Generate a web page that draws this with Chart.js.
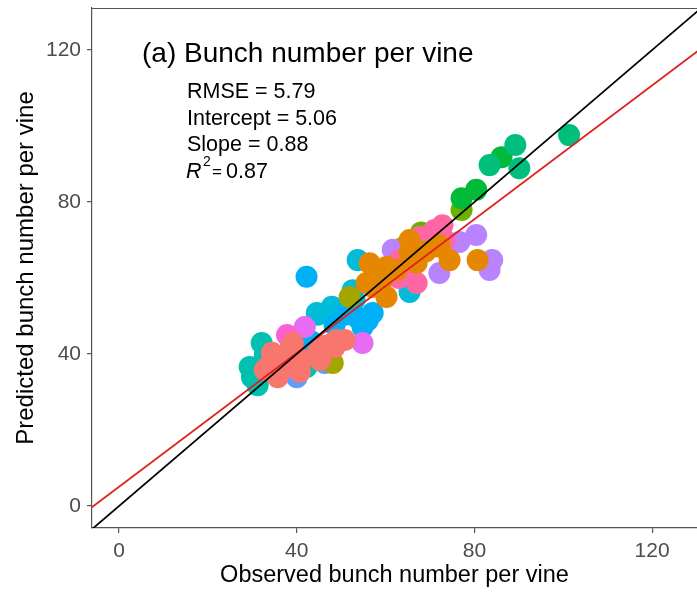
<!DOCTYPE html>
<html>
<head>
<meta charset="utf-8">
<title>Bunch number per vine</title>
<script src="https://cdn.jsdelivr.net/npm/chart.js@4.4.1/dist/chart.umd.min.js"></script>
<style>
  html, body { margin: 0; padding: 0; background: #fff; overflow: hidden; }
  #chart { display: block; }
</style>
</head>
<body>
<canvas id="chart" width="697" height="592"></canvas>
<script>
// observed vs predicted bunch number, one array per group ([observed, predicted])
var grpSalmon  = [[34.4,40.3],[37.3,36.6],[33.5,36.6],[48.5,41.8],[44.7,40.3],[50.8,43.7],[41.1,38.4],[35.7,33.9],[39.1,42.9],[49.0,43.7],[36.0,39.0],[46.0,42.0],[40.7,35.3],[45.2,38.4],[47.4,42.4],[38.4,41.1],[32.8,35.8]];
var grpOrange  = [[80.7,64.7],[74.4,64.7],[72.1,68.2],[65.4,66.6],[56.4,63.9],[60.2,62.9],[57.1,57.6],[59.3,59.5],[55.7,58.7],[60.2,55.0],[62.5,62.1],[67.0,64.0],[69.0,67.0],[72.1,68.7],[65.4,70.0]];
var grpOlive   = [[51.9,55.0],[48.1,37.6],[64.0,68.0],[66.5,69.2]];
var grpLime    = [[77.1,77.9],[68.0,72.0]];
var grpGreen   = [[86.1,91.8],[80.4,83.2],[77.1,81.0]];
var grpJade    = [[101.3,97.6],[89.2,95.0],[83.4,89.7],[90.1,88.9]];
var grpTeal    = [[29.9,33.9],[29.4,36.6],[32.1,42.9],[42.2,36.6],[31.0,35.0],[34.0,38.0],[31.2,31.8],[32.8,39.7]];
var grpCyan    = [[53.7,64.7],[65.4,56.3],[44.5,50.8],[47.9,52.4],[52.6,56.8],[44.7,50.3],[53.0,54.2]];
var grpSky     = [[42.2,60.3],[54.8,47.1],[57.1,50.8],[42.2,43.7],[53.5,49.7],[43.4,43.2],[56.0,48.9],[48.5,47.6],[50.8,50.3]];
var grpBlue    = [[46.3,37.6],[40.0,33.9]];
var grpPurple  = [[80.4,71.3],[76.6,69.5],[84.0,64.7],[83.4,62.1],[72.1,61.3],[61.6,67.4]];
var grpMagenta = [[54.8,42.9],[41.8,47.1]];
var grpOrchid  = [[37.8,45.0],[70.0,68.0]];
var grpPink    = [[72.8,73.9],[67.6,70.8],[65.4,63.9],[67.0,58.7],[63.0,60.0],[63.1,64.7],[71.0,72.6],[73.3,70.0]];

// fitted line and 1:1 line
var fitIntercept = 5.06;
var fitSlope = 0.88;
var lineX = [-10, 140];

var xTicks = [0, 40, 80, 120];
var yTicks = [0, 40, 80, 120];

var statLines = ['RMSE = 5.79', 'Intercept = 5.06', 'Slope = 0.88'];
var r2Value = '0.87';

var FONT = "'Liberation Sans', Arial, sans-serif";

function pts(arr) {
  return arr.map(function (p) { return { x: p[0], y: p[1] }; });
}

function grp(data, color) {
  return {
    type: 'scatter',
    data: pts(data),
    backgroundColor: color,
    borderWidth: 0,
    pointRadius: 11,
    pointHoverRadius: 11
  };
}

var datasets = [
  {
    type: 'line',
    data: lineX.map(function (x) { return { x: x, y: x }; }),
    borderColor: '#000000',
    borderWidth: 1.8,
    pointRadius: 0
  },
  {
    type: 'line',
    data: lineX.map(function (x) { return { x: x, y: fitIntercept + fitSlope * x }; }),
    borderColor: '#E0201B',
    borderWidth: 1.8,
    pointRadius: 0
  },
  grp(grpOrange, '#E58700'),
  grp(grpPink, '#FF67A4'),
  grp(grpSalmon, '#F8766D'),
  grp(grpOrchid, '#FD61D1'),
  grp(grpMagenta, '#E76BF3'),
  grp(grpPurple, '#B983FF'),
  grp(grpOlive, '#A3A500'),
  grp(grpBlue, '#619CFF'),
  grp(grpSky, '#00B0F6'),
  grp(grpCyan, '#00BCD8'),
  grp(grpTeal, '#00C0AF'),
  grp(grpJade, '#00BF7D'),
  grp(grpGreen, '#00BA38'),
  grp(grpLime, '#6BB100')
];

// no label overhang padding, the panel runs to the canvas edges
function noPad(s) {
  s.paddingTop = 0; s.paddingBottom = 0; s.paddingLeft = 0; s.paddingRight = 0;
}

// panel top border + text block in the upper left
var panelText = {
  id: 'panelText',
  afterDraw: function (chart) {
    var ctx = chart.ctx, a = chart.chartArea;
    ctx.save();
    ctx.strokeStyle = '#555555';
    ctx.lineWidth = 1.2;
    ctx.beginPath();
    ctx.moveTo(a.left, a.top + 0.5);
    ctx.lineTo(a.right, a.top + 0.5);
    ctx.stroke();

    ctx.fillStyle = '#000000';
    ctx.textBaseline = 'alphabetic';
    ctx.textAlign = 'left';
    ctx.font = '28px ' + FONT;
    ctx.fillText('(a) Bunch number per vine', 142, 62);

    ctx.font = '21.5px ' + FONT;
    var y0 = 98, step = 26.5;
    statLines.forEach(function (s, i) {
      ctx.fillText(s, 187, y0 + i * step);
    });
    var yR = y0 + 3 * step;
    ctx.font = 'italic 21.5px ' + FONT;
    ctx.fillText('R', 186, yR);
    ctx.font = '14px ' + FONT;
    ctx.fillText('2', 203, yR - 12);
    ctx.font = '17px ' + FONT;
    ctx.fillText('=', 212, yR - 1);
    ctx.font = '21.5px ' + FONT;
    ctx.fillText(r2Value, 226, yR);
    ctx.restore();
  }
};

var axisColor = '#555555';
var tickColor = '#4D4D4D';

new Chart(document.getElementById('chart'), {
  type: 'scatter',
  data: { datasets: datasets },
  options: {
    responsive: false,
    animation: false,
    layout: { autoPadding: false, padding: { top: 8, left: 0, right: 0, bottom: 0 } },
    plugins: { legend: { display: false }, tooltip: { enabled: false } },
    scales: {
      x: {
        type: 'linear',
        min: -6.1,
        max: 130.1,
        afterBuildTicks: function (s) { s.ticks = xTicks.map(function (v) { return { value: v }; }); },
        afterFit: function (s) { s.height = 64; noPad(s); },
        grid: { drawOnChartArea: false, color: axisColor, tickLength: 5, lineWidth: 1.2 },
        border: { color: axisColor, width: 1.2 },
        ticks: { color: tickColor, font: { family: FONT, size: 21 }, padding: 6, maxRotation: 0 },
        title: { display: true, text: 'Observed bunch number per vine', color: '#000', font: { family: FONT, size: 23.5 }, padding: { top: 0, bottom: 2 } }
      },
      y: {
        type: 'linear',
        min: -5.8,
        max: 131.05,
        afterBuildTicks: function (s) { s.ticks = yTicks.map(function (v) { return { value: v }; }); },
        afterFit: function (s) { s.width = 92; noPad(s); },
        grid: { drawOnChartArea: false, color: axisColor, tickLength: 5, lineWidth: 1.2 },
        border: { color: axisColor, width: 1.2 },
        ticks: { color: tickColor, font: { family: FONT, size: 21 }, padding: 6 },
        title: { display: true, text: 'Predicted bunch number per vine', color: '#000', font: { family: FONT, size: 24 }, padding: { top: 12, bottom: 0 } }
      }
    }
  },
  plugins: [panelText]
});
</script>
</body>
</html>
